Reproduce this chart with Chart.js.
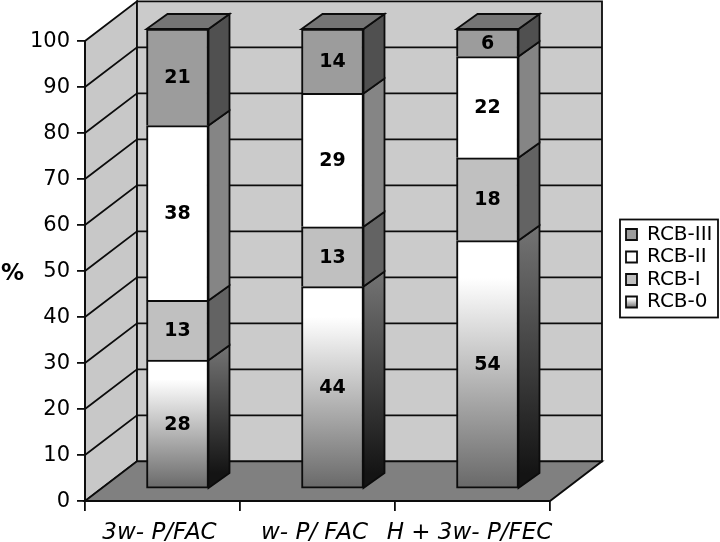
<!DOCTYPE html>
<html>
<head>
<meta charset="utf-8">
<style>
  body { margin: 0; background: #fff; }
  canvas { display: block; }
</style>
<script src="https://cdn.jsdelivr.net/npm/chart.js@4"></script>
</head>
<body>
<canvas id="chart" width="720" height="542"></canvas>
<script>
const categories = ['3w- P/FAC', 'w- P/ FAC', 'H + 3w- P/FEC'];
const rcb0 = [28, 44, 54];
const rcb1 = [13, 13, 18];
const rcb2 = [38, 29, 22];
const rcb3 = [21, 14, 6];
const yTicks = [0, 10, 20, 30, 40, 50, 60, 70, 80, 90, 100];

// depth of the box and of the bars, in px
const wallDx = 52, wallDy = -39.7;
const barDx = 21, barDy = -15;
const barShiftX = 15, barShiftY = -12;
const lineCol = '#0c0c0c';
const lineW = 1.8;
const fontName = '"DejaVu Sans", Verdana, sans-serif';

const sideCols = [null, '#636363', '#858585', '#505050'];

function front0(ctx, top, bottom) {
  const g = ctx.createLinearGradient(0, top, 0, bottom);
  g.addColorStop(0, '#ffffff');
  g.addColorStop(0.15, '#ffffff');
  g.addColorStop(1, '#686868');
  return g;
}

function side0(ctx, top, bottom) {
  const g = ctx.createLinearGradient(0, top, 0, bottom);
  g.addColorStop(0, '#747474');
  g.addColorStop(1, '#141414');
  return g;
}

function poly(ctx, pts, fill) {
  ctx.beginPath();
  pts.forEach((p, i) => i ? ctx.lineTo(p[0], p[1]) : ctx.moveTo(p[0], p[1]));
  ctx.closePath();
  ctx.fillStyle = fill;
  ctx.fill();
  ctx.stroke();
}

const box3d = {
  id: 'box3d',
  afterLayout(chart) {
    // legend sits out of the chart area, right of the box
    const lg = chart.legend;
    const w = lg.right - lg.left, h = lg.bottom - lg.top;
    lg.left = 623.5; lg.right = 623.5 + w;
    lg.top = 222; lg.bottom = 222 + h;
  },
  beforeDraw(chart) {
    const ctx = chart.ctx, y = chart.scales.y, a = chart.chartArea;
    ctx.save();
    ctx.lineWidth = lineW;
    ctx.strokeStyle = lineCol;
    const l = a.left, r = a.right, t = a.top, b = a.bottom;
    // side wall, back wall, floor
    poly(ctx, [[l, b], [l, t], [l + wallDx, t + wallDy], [l + wallDx, b + wallDy]], '#c8c8c8');
    poly(ctx, [[l + wallDx, t + wallDy], [r + wallDx, t + wallDy], [r + wallDx, b + wallDy], [l + wallDx, b + wallDy]], '#cbcbcb');
    poly(ctx, [[l, b], [r, b], [r + wallDx, b + wallDy], [l + wallDx, b + wallDy]], '#808080');
    // grid lines
    yTicks.slice(1, -1).forEach(v => {
      const py = y.getPixelForValue(v);
      ctx.beginPath();
      ctx.moveTo(l, py);
      ctx.lineTo(l + wallDx, py + wallDy);
      ctx.lineTo(r + wallDx, py + wallDy);
      ctx.stroke();
    });
    ctx.restore();
  },
  beforeDatasetsDraw(chart) {
    const ctx = chart.ctx;
    ctx.save();
    ctx.translate(barShiftX, barShiftY);
    ctx.lineWidth = lineW;
    ctx.strokeStyle = lineCol;
    // side and top faces, the fronts come from the library
    chart.data.datasets.forEach((ds, i) => {
      chart.getDatasetMeta(i).data.forEach(bar => {
        const right = bar.x + bar.width / 2, left = bar.x - bar.width / 2;
        const fill = i === 0 ? side0(ctx, bar.y + barDy, bar.base + barDy) : sideCols[i];
        poly(ctx, [[right, bar.base], [right, bar.y], [right + barDx, bar.y + barDy], [right + barDx, bar.base + barDy]], fill);
        if (i === chart.data.datasets.length - 1) {
          poly(ctx, [[left, bar.y], [right, bar.y], [right + barDx, bar.y + barDy], [left + barDx, bar.y + barDy]], '#757575');
        }
      });
    });
  },
  afterDatasetsDraw(chart) {
    const ctx = chart.ctx;
    // value labels
    ctx.fillStyle = '#000';
    ctx.font = 'bold 19px ' + fontName;
    ctx.textAlign = 'center';
    ctx.textBaseline = 'middle';
    chart.data.datasets.forEach((ds, i) => {
      chart.getDatasetMeta(i).data.forEach((bar, j) => {
        ctx.fillText(ds.data[j], bar.x, (bar.y + bar.base) / 2 + 1);
      });
    });
    ctx.restore();
  },
  afterDraw(chart) {
    const ctx = chart.ctx;
    ctx.save();
    ctx.strokeStyle = lineCol;
    ctx.lineWidth = lineW;
    ctx.strokeRect(620, 219.5, 98, 98);
    ctx.fillStyle = '#000';
    ctx.font = 'bold 23px ' + fontName;
    ctx.textBaseline = 'middle';
    ctx.fillText('%', 1, 274);
    ctx.restore();
  }
};

const canvas = document.getElementById('chart');
const legendGrad = front0(canvas.getContext('2d'), 297, 308);

new Chart(canvas, {
  type: 'bar',
  data: {
    labels: categories,
    datasets: [
      { label: 'RCB-0', data: rcb0, borderSkipped: false, backgroundColor: c => {
          if (c.type !== 'data') return '#fff';
          const y = c.chart.scales.y;
          return front0(c.chart.ctx, y.getPixelForValue(c.raw), y.getPixelForValue(0));
        } },
      { label: 'RCB-I', data: rcb1, backgroundColor: '#c0c0c0' },
      { label: 'RCB-II', data: rcb2, backgroundColor: '#ffffff' },
      { label: 'RCB-III', data: rcb3, backgroundColor: '#9c9c9c' }
    ]
  },
  options: {
    responsive: false,
    animation: false,
    layout: { padding: { top: 41, right: 170, left: 0, bottom: 0 } },
    datasets: { bar: { barThickness: 62, borderColor: lineCol, borderWidth: 2, borderSkipped: 'bottom', clip: false } },
    scales: {
      x: {
        stacked: true,
        afterFit: s => { s.height = 41; },
        border: { color: lineCol, width: lineW },
        grid: { drawOnChartArea: false, color: lineCol, lineWidth: lineW, tickLength: 10 },
        ticks: { color: '#000', padding: 8, labelOffset: -3, autoSkip: false, maxRotation: 0, font: { family: fontName, size: 23, style: 'italic' } }
      },
      y: {
        stacked: true,
        min: 0,
        max: 100,
        afterFit: s => { s.width = 85; },
        border: { color: lineCol, width: lineW },
        grid: { drawOnChartArea: false, color: lineCol, lineWidth: lineW, tickLength: 8 },
        ticks: { stepSize: 10, color: '#000', padding: 7, labelOffset: 1, font: { family: fontName, size: 21 } }
      }
    },
    plugins: {
      tooltip: { enabled: false },
      legend: {
        position: 'chartArea',
        align: 'start',
        reverse: true,
        labels: {
          boxWidth: 11,
          boxHeight: 11,
          padding: 2.5,
          color: '#000',
          font: { family: fontName, size: 20, lineHeight: 1 },
          generateLabels: chart => chart.data.datasets.map((ds, i) => ({
            text: ds.label,
            fillStyle: i === 0 ? legendGrad : ds.backgroundColor,
            strokeStyle: lineCol,
            lineWidth: lineW,
            datasetIndex: i
          }))
        }
      }
    }
  },
  plugins: [box3d]
});
</script>
</body>
</html>
